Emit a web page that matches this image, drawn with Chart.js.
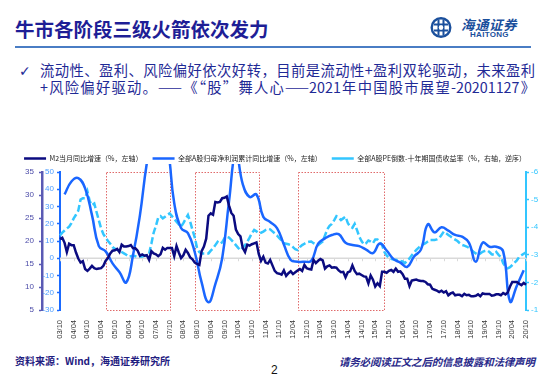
<!DOCTYPE html>
<html>
<head>
<meta charset="utf-8">
<script src="https://cdn.jsdelivr.net/npm/chart.js@4.4.1/dist/chart.umd.min.js"></script>
<style>
  html, body { margin: 0; padding: 0; background: #ffffff; }
  #page { position: relative; width: 550px; height: 379px; overflow: hidden; background: #fff; font-family: "Noto Sans CJK SC", "Noto Sans", sans-serif; }
  .abs { position: absolute; white-space: nowrap; }
  #title { left: 15px; top: 14px; font-size: 19.5px; font-weight: 700; color: #1e1e96; letter-spacing: 0px; }
  #rule { left: 15px; top: 46px; width: 516px; height: 2px; background: #4a7dc4; }
  #check { left: 19px; top: 63px; font-size: 14px; color: #1f2a96; font-family: "DejaVu Sans", sans-serif; }
  .bl { left: 40px; width: 495px; font-size: 14.3px; color: #1f2a96; text-align: justify; text-align-last: justify; line-height: 17px; }
  #l1 { top: 61px; }
  #l2 { top: 78px; }
  #logoText { left: 461px; top: 14px; font-size: 13.5px; font-weight: 700; font-style: italic; color: #1a4f9c; letter-spacing: 0.5px; }
  #logoEn { left: 470px; top: 30px; font-size: 8px; font-weight: 700; color: #1a4f9c; font-family: "Liberation Sans", Arial, sans-serif; letter-spacing: 0.3px; }
  #src { left: 15px; top: 353px; font-size: 10px; font-weight: 700; color: #1f2080; }
  #pg { left: 271px; top: 363px; font-size: 12px; color: #111; font-family: "Liberation Sans", Arial, sans-serif; }
  #disc { left: 339px; top: 354px; font-size: 10.5px; font-weight: 700; font-style: italic; color: #2a2a8a; letter-spacing: -0.2px; }
  #chartWrap { position: absolute; left: 0; top: 145px; width: 550px; height: 200px; }
</style>
</head>
<body>
<div id="page">
  <div id="title" class="abs">牛市各阶段三级火箭依次发力</div>
  <svg class="abs" style="left:430px;top:16px" width="22" height="23" viewBox="0 0 22 23">
    <circle cx="11" cy="11.5" r="9.3" fill="none" stroke="#1a4f9c" stroke-width="2.4"/>
    <path d="M4 8.5 H18 M4 14.5 H18 M8.5 4 V19 M13.5 4 V19" stroke="#1a4f9c" stroke-width="2" fill="none"/>
    <circle cx="11" cy="11.5" r="2.2" fill="#fff"/>
  </svg>
  <div id="logoText" class="abs">海通证券</div>
  <div id="logoEn" class="abs">HAITONG</div>
  <div id="rule" class="abs"></div>
  <div id="check" class="abs">✓</div>
  <div id="l1" class="abs bl">流动性、盈利、风险偏好依次好转，目前是流动性+盈利双轮驱动，未来盈利</div>
  <div id="l2" class="abs bl">+风险偏好驱动。——《“股”舞人心——2021年中国股市展望-20201127》</div>
  <div id="chartWrap"><canvas id="c" width="550" height="200"></canvas></div>
  <div id="src" class="abs">资料来源：Wind，海通证券研究所</div>
  <div id="pg" class="abs">2</div>
  <div id="disc" class="abs">请务必阅读正文之后的信息披露和法律声明</div>
</div>
<script>
// ---- categories: monthly, 2003/10 .. 2020/10 ----
const startYear = 2003, startMonth = 10, monthCount = 205;
const months = [];
for (let i = 0; i < monthCount; i++) {
  const t = (startMonth - 1) + i;
  const y = startYear + Math.floor(t / 12);
  const m = (t % 12) + 1;
  months.push(String(y % 100).padStart(2, '0') + '/' + String(m).padStart(2, '0'));
}

// ---- tick labels shown on the x axis ----
const tickLabels = ['03/10','04/04','04/10','05/04','05/10','06/04','06/10','07/04','07/10','08/04','08/10',
  '09/04','09/10','10/04','10/10','11/04','11/10','12/04','12/10','13/04','13/10','14/04','14/10',
  '15/04','15/10','16/04','16/10','17/04','17/10','18/04','18/10','19/04','19/10','20/04','20/10'];

// ---- M2 YoY (%), monthly 2003/10 .. 2020/10 (left axis) ----
const m2Values = [
  20.4, 20.7, 19.6,
  17.6, 19.4, 19.1, 19.1, 17.5, 16.2, 15.3, 15.6, 13.9, 13.5, 14.0, 14.6,
  14.1, 13.9, 14.0, 14.1, 14.6, 15.7, 16.3, 17.3, 17.9, 18.0, 18.3, 17.6,
  19.2, 18.8, 18.8, 18.9, 19.1, 18.4, 18.4, 17.9, 16.8, 17.1, 16.8, 16.9,
  15.9, 17.8, 17.3, 17.1, 16.7, 17.1, 18.5, 18.1, 18.5, 18.5, 18.5, 16.7,
  18.9, 17.5, 16.3, 16.9, 18.1, 17.4, 16.4, 16.0, 15.3, 15.0, 14.8, 17.8,
  18.8, 20.5, 25.5, 26.0, 25.7, 28.5, 28.4, 28.5, 29.3, 29.4, 29.7, 27.7,
  26.1, 25.5, 22.5, 21.5, 21.0, 18.5, 17.6, 19.2, 19.0, 19.3, 19.5, 19.7,
  17.2, 15.7, 16.6, 15.3, 15.1, 15.9, 14.7, 13.5, 13.0, 12.9, 12.7, 13.6,
  12.4, 13.0, 13.4, 12.8, 13.2, 13.6, 13.9, 13.5, 14.8, 14.1, 13.9, 13.8,
  15.9, 15.2, 15.7, 16.1, 15.8, 14.0, 14.5, 14.7, 14.2, 14.3, 14.2, 13.6,
  13.2, 13.3, 12.1, 13.2, 13.4, 14.7, 13.5, 12.8, 12.9, 12.6, 12.3, 12.2,
  10.8, 12.5, 11.6, 10.1, 10.8, 10.2, 13.3, 13.3, 13.1, 13.5, 13.7, 13.3,
  14.0, 13.3, 13.4, 12.8, 11.8, 11.8, 10.2, 11.4, 11.5, 11.6, 11.4, 11.3,
  11.3, 11.1, 10.6, 10.5, 9.6, 9.4, 9.2, 8.9, 9.2, 8.8, 9.1, 8.2,
  8.6, 8.8, 8.2, 8.3, 8.3, 8.0, 8.5, 8.2, 8.3, 8.0, 8.0, 8.1,
  8.4, 8.0, 8.6, 8.5, 8.5, 8.5, 8.1, 8.2, 8.4, 8.4, 8.2, 8.7,
  8.4, 8.8, 10.1, 11.1, 11.1, 11.1, 10.7, 10.4, 10.9, 10.5
];

// ---- A-share net profit cumulative YoY (%), quarterly (left axis 2) ----
const profitDates = ['03/12',
  '04/03','04/06','04/09','04/12','05/03','05/06','05/09','05/12','06/03','06/06','06/09','06/12',
  '07/03','07/06','07/09','07/12','08/03','08/06','08/09','08/12','09/03','09/06','09/09','09/12',
  '10/03','10/06','10/09','10/12','11/03','11/06','11/09','11/12','12/03','12/06','12/09','12/12',
  '13/03','13/06','13/09','13/12','14/03','14/06','14/09','14/12','15/03','15/06','15/09','15/12',
  '16/03','16/06','16/09','16/12','17/03','17/06','17/09','17/12','18/03','18/06','18/09','18/12',
  '19/03','19/06','19/09','19/12','20/03','20/06','20/09'];
const profitValues = [37,
  44.5, 46.5, 40.5, 25, 7, 4, -3, -8, -14, 2, 25, 55,
  75, 75, 65, 32, 17.5, 14.5, 3.5, -14, -25.5, -15, 0, 33,
  62, 43, 35.5, 37, 24, 21, 17.5, 8, -1, -2, -2, -1.5,
  8.5, 11.5, 13.5, 14, 9, 7.7, 7, 5, 3, 8.5, 4.5, -0.5,
  -2.5, -5, 1, 5, 19.7, 15, 18, 16, 13.5, 12.5, 9, -2,
  9, 6.7, 6.7, 4, -25, -16, -7];

// ---- A-share 1/PE minus 10Y yield (%), monthly (right axis, reversed) ----
const erpValues = [
  -3.70,-3.80,-3.88,-3.95,-4.02,-4.15,-4.32,-4.45,-4.60,-5.00,
  -5.05,-5.05,-5.30,-4.95,-4.80,-4.86,-4.55,-4.25,-3.95,-3.75,
  -3.62,-3.50,-3.40,-3.28,-3.22,-3.18,-3.15,-3.10,-3.05,-3.00,
  -2.93,-2.95,-2.97,-2.95,-2.92,-2.93,-2.94,-2.96,-3.00,-3.05,
  -3.40,-3.80,-4.05,-4.35,-4.40,-4.32,-4.38,-4.45,-4.50,-4.40,
  -4.30,-4.20,-4.10,-4.02,-4.15,-4.30,-4.44,-4.20,-3.90,-3.62,
  -3.25,-3.10,-3.05,-3.05,-3.05,-3.05,-3.15,-3.23,-3.35,-3.47,
  -3.40,-3.45,-3.60,-3.65,-3.62,-3.54,-3.45,-3.35,-3.25,-3.17,
  -3.25,-3.35,-3.48,-3.62,-3.78,-3.90,-3.85,-3.78,-3.80,-3.84,
  -3.90,-3.94,-3.92,-3.85,-3.78,-3.70,-3.60,-3.52,-3.42,-3.40,
  -3.38,-3.35,-3.28,-3.20,-3.17,-3.28,-3.35,-3.40,-3.45,-3.47,
  -3.48,-3.42,-3.38,-3.35,-3.42,-3.48,-3.70,-3.92,-4.05,-4.12,
  -4.25,-4.40,-4.35,-4.26,-4.32,-4.38,-4.15,-4.02,-3.98,-4.12,
  -3.90,-3.66,-3.50,-3.38,-3.42,-3.52,-3.48,-3.42,-3.55,-3.55,
  -3.45,-3.35,-3.10,-2.98,-2.90,-2.85,-2.83,-2.82,-2.80,-2.78,
  -2.76,-2.70,-2.78,-2.87,-2.98,-3.08,-3.18,-3.26,-3.32,-3.38,
  -3.42,-3.48,-3.54,-3.54,-3.54,-3.56,-3.60,-3.72,-3.84,-3.78,
  -3.72,-3.66,-3.60,-3.55,-3.50,-3.42,-3.36,-3.33,-3.30,-3.25,
  -3.18,-3.11,-3.05,-3.00,-3.05,-3.11,-3.14,-3.16,-3.10,-3.02,
  -3.00,-3.10,-3.00,-2.92,-2.70,-2.58,-2.51,-2.55,-2.63,-2.72,
  -2.80,-2.92,-2.98,-3.04,-3.09
];

// ---- highlighted periods (red dotted boxes) ----
const boxStarts = ['05/06', '08/09', '12/06'];
const boxEnds   = ['07/10', '11/01', '15/08'];

// ---- series names ----
const seriesNames = ['M2当月同比增速（%，左轴）', '全部A股归母净利润累计同比增速（%，左轴）', '全部A股PE倒数-十年期国债收益率（%，右轴，逆序）'];

const tickFont = { family: 'Liberation Sans, Arial, sans-serif', size: 8 };

const legendHeight = {
  id: 'legendHeight',
  beforeInit(chart) {
    const orig = chart.legend.fit;
    chart.legend.fit = function () { orig.call(this); this.height = 27; };
  }
};

const decor = {
  id: 'decor',
  beforeDatasetsDraw(chart) {
    const { ctx, chartArea: a, scales } = chart;
    const xs = scales.x, yp = scales.yP;
    ctx.save();
    // zero line of the profit axis (category axis crossing)
    const y0 = yp.getPixelForValue(0);
    ctx.strokeStyle = '#d9d9d9';
    ctx.lineWidth = 1.5;
    ctx.beginPath(); ctx.moveTo(a.left, y0); ctx.lineTo(a.right, y0); ctx.stroke();
    ctx.lineWidth = 1;
    tickLabels.forEach(l => {
      const x = Math.round(xs.getPixelForValue(months.indexOf(l))) + 0.5;
      ctx.beginPath(); ctx.moveTo(x, y0); ctx.lineTo(x, y0 + 3); ctx.stroke();
    });
    // dotted red boxes
    ctx.strokeStyle = '#e06a6a';
    ctx.lineWidth = 1;
    ctx.setLineDash([1.5, 1.5]);
    boxStarts.forEach((s, i) => {
      const x1 = Math.round(xs.getPixelForValue(months.indexOf(s))) + 0.5;
      const x2 = Math.round(xs.getPixelForValue(months.indexOf(boxEnds[i]))) + 0.5;
      ctx.strokeRect(x1, Math.round(a.top) + 0.5, x2 - x1, Math.round(a.bottom - a.top));
    });
    ctx.restore();
  }
};

new Chart(document.getElementById('c'), {
  type: 'line',
  data: {
    labels: months,
    datasets: [
      {
        label: seriesNames[0], data: m2Values, yAxisID: 'yM2',
        borderColor: '#0b0b80', backgroundColor: '#0b0b80', borderWidth: 2.5,
        pointRadius: 0, tension: 0
      },
      {
        label: seriesNames[1],
        data: profitDates.map((d, i) => ({ x: d, y: profitValues[i] })),
        yAxisID: 'yP',
        borderColor: '#1a66ff', backgroundColor: '#1a66ff', borderWidth: 2.5,
        pointRadius: 0, tension: 0.45, clip: { left: 2, top: 8, right: 2, bottom: 2 }
      },
      {
        label: seriesNames[2], data: erpValues, yAxisID: 'yR',
        borderColor: '#33c6ff', backgroundColor: '#33c6ff', borderWidth: 2.5,
        borderDash: [7, 3], pointRadius: 0, tension: 0
      }
    ]
  },
  options: {
    responsive: false,
    animation: false,
    devicePixelRatio: 1,
    layout: { padding: { left: 0, right: 0, top: 0, bottom: 0 } },
    plugins: {
      tooltip: { enabled: false },
      legend: {
        display: true,
        position: 'top',
        labels: {
          usePointStyle: true, pointStyle: 'line', pointStyleWidth: 22, boxHeight: 7,
          padding: 10, color: '#222',
          font: { family: 'Noto Sans CJK SC, sans-serif', size: 7 }
        }
      }
    },
    scales: {
      x: {
        type: 'category',
        offset: false,
        grid: { display: false },
        border: { display: false },
        ticks: {
          autoSkip: false, maxRotation: 90, minRotation: 90, padding: 2,
          color: '#333', font: { family: 'Liberation Sans, Arial, sans-serif', size: 7.5 },
          callback: function (v) { const l = months[v]; return tickLabels.includes(l) ? l : null; }
        },
        afterFit(s) { s.height = 35; }
      },
      yM2: {
        position: 'left', weight: 1, min: 5, max: 35,
        ticks: { stepSize: 5, color: '#4b4ba8', font: tickFont, padding: 5 },
        grid: { drawOnChartArea: false, drawTicks: true, tickLength: 3, color: '#5a5ab4', tickWidth: 1.5 },
        border: { display: true, color: '#5a5ab4', width: 2.5 },
        afterFit(s) { s.width = 42; }
      },
      yP: {
        position: 'left', weight: 0, min: -30, max: 50,
        ticks: { stepSize: 10, color: '#4a9cff', font: tickFont, padding: 3 },
        grid: { drawOnChartArea: false, drawTicks: true, tickLength: 3, color: '#1a6aff', tickWidth: 1.5 },
        border: { display: true, color: '#1a6aff', width: 2 },
        afterFit(s) { s.width = 18; }
      },
      yR: {
        position: 'right', min: -6, max: -1, reverse: true,
        ticks: { stepSize: 1, color: '#33c6ff', font: tickFont, padding: 2 },
        grid: { drawOnChartArea: false, drawTicks: true, tickLength: 3, color: '#33c6ff', tickWidth: 1.5 },
        border: { display: true, color: '#33c6ff', width: 2 },
        afterFit(s) { s.width = 24; }
      }
    }
  },
  plugins: [legendHeight, decor]
});
</script>
</body>
</html>
